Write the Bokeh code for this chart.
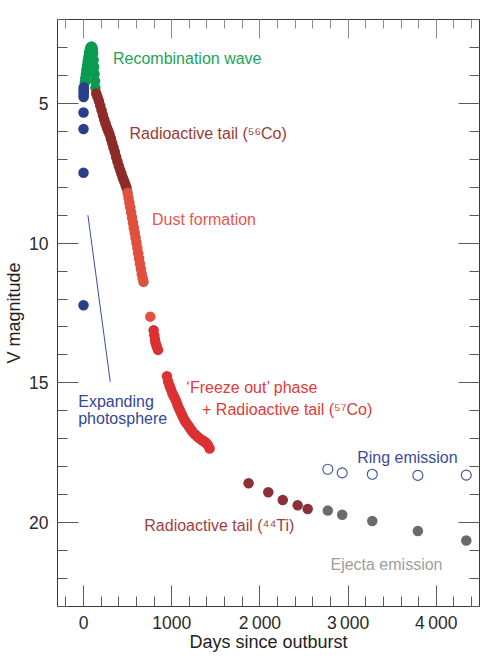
from bokeh.plotting import figure
from bokeh.models import Range1d, LinearAxis, SingleIntervalTicker, Label
from bokeh.embed import file_html
from bokeh.resources import INLINE

# ---------------- data ----------------
# Expanding photosphere (blue)
blue_days = [0, 0, 0, 0, 1, 1, 2, 2, 3, 3]
blue_mags = [12.22, 7.48, 5.92, 5.33, 4.77, 4.70, 4.62, 4.55, 4.48, 4.42]

# Recombination wave (green)
green_days = [15, 20, 27, 33, 40, 47, 55, 62, 70, 77, 84, 91, 98, 105, 110, 115, 120, 125, 130, 135]
green_mags = [4.25, 4.10, 3.95, 3.80, 3.65, 3.50, 3.35, 3.20, 3.10, 3.02, 2.98, 2.97, 2.98, 3.05,
              3.20, 3.45, 3.70, 3.95, 4.20, 4.45]

# Radioactive tail 56Co (dark red)
co56_days = [145, 160, 175, 190, 205, 220, 235, 250, 265, 280, 295, 310, 325, 340, 355, 370,
             385, 400, 415, 430, 445, 460, 475, 488]
co56_mags = [4.65, 4.78, 4.92, 5.08, 5.25, 5.42, 5.58, 5.72, 5.86, 5.98, 6.10, 6.26, 6.42, 6.58,
             6.74, 6.92, 7.08, 7.24, 7.38, 7.52, 7.66, 7.78, 7.90, 8.02]

# Dust formation (orange red)
dust_days = [500, 510, 520, 530, 540, 550, 560, 570, 580, 590, 600, 610, 620, 630, 640, 650,
             660, 670, 680, 757]
dust_mags = [8.20, 8.38, 8.55, 8.72, 8.90, 9.08, 9.27, 9.45, 9.62, 9.80, 9.98, 10.17, 10.36,
             10.55, 10.74, 10.92, 11.10, 11.25, 11.38, 12.63]

# Freeze out phase + radioactive tail 57Co (red)
freeze_days = [795, 803, 810, 818, 830, 845,
               946, 960, 975, 990, 1005, 1020, 1035, 1050, 1065, 1080, 1095, 1110, 1125, 1140,
               1155, 1170, 1185, 1200, 1215, 1230, 1250, 1270, 1290, 1310, 1330, 1350, 1370,
               1390, 1410, 1430]
freeze_mags = [13.12, 13.30, 13.45, 13.58, 13.70, 13.82,
               14.76, 14.95, 15.10, 15.22, 15.35, 15.45, 15.55, 15.65, 15.78, 15.90, 16.00,
               16.10, 16.20, 16.30, 16.38, 16.45, 16.52, 16.58, 16.66, 16.72, 16.80, 16.86,
               16.92, 16.97, 17.02, 17.06, 17.10, 17.15, 17.22, 17.35]

# Radioactive tail 44Ti (brown)
ti44_days = [1872, 2095, 2259, 2428, 2542]
ti44_mags = [18.59, 18.91, 19.19, 19.38, 19.51]

# Ejecta emission (grey)
ejecta_days = [2770, 2933, 3274, 3791, 4340]
ejecta_mags = [19.57, 19.72, 19.94, 20.30, 20.64]

# Ring emission (open blue circles)
ring_days = [2770, 2933, 3274, 3791, 4340]
ring_mags = [18.09, 18.22, 18.27, 18.31, 18.30]

# Pointer line for the "Expanding photosphere" label
pointer_days = [50, 303]
pointer_mags = [9.0, 14.96]

x_tick_labels = {0: "0", 1000: "1000", 2000: "2\u2009000", 3000: "3\u2009000", 4000: "4\u2009000"}

# ---------------- figure ----------------
FONT = "Liberation Sans"
AXIS_LINE = "#3a3a3a"
TICK = "#5a5a5a"

p = figure(width=500, height=664,
           x_range=Range1d(-295, 4490), y_range=Range1d(23, 2),
           output_backend="svg", toolbar_location=None,
           x_axis_location=None, y_axis_location=None,
           min_border_left=57, min_border_right=21, min_border_top=19, min_border_bottom=58)
p.grid.visible = False
p.outline_line_color = None
p.background_fill_color = "white"
p.border_fill_color = "white"


def make_axis(ticker_interval, label, major_in, minor_in, show_labels, overrides=None):
    ax = LinearAxis(ticker=SingleIntervalTicker(interval=ticker_interval, num_minor_ticks=5))
    ax.axis_line_color = AXIS_LINE
    ax.axis_line_width = 1
    ax.major_tick_line_color = TICK
    ax.minor_tick_line_color = TICK
    ax.major_tick_in = major_in
    ax.major_tick_out = 0
    ax.minor_tick_in = minor_in
    ax.minor_tick_out = 0
    if show_labels:
        ax.major_label_text_font = FONT
        ax.major_label_text_font_size = "17.5px"
        ax.major_label_text_color = "#2a2a2a"
        ax.axis_label = label
        ax.axis_label_text_font = FONT
        ax.axis_label_text_font_size = "18px"
        ax.axis_label_text_font_style = "normal"
        ax.axis_label_text_color = "#222222"
        if overrides:
            ax.major_label_overrides = overrides
    else:
        ax.major_label_text_font_size = "0px"
        ax.major_label_text_alpha = 0
        ax.major_label_standoff = 0
    return ax


bottom = make_axis(1000, "Days since outburst", 21, 10, True, x_tick_labels)
bottom.major_label_standoff = 6
bottom.axis_label_standoff = -4
left = make_axis(5, "V magnitude", 21, 10, True)
left.major_label_standoff = 9
left.axis_label_standoff = 2
top = make_axis(1000, None, 19, 9, False)
top.major_tick_line_color = "#8a8a8a"
top.minor_tick_line_color = "#8a8a8a"
right = make_axis(5, None, 21, 10, False)

p.add_layout(bottom, "below")
p.add_layout(left, "left")
p.add_layout(top, "above")
p.add_layout(right, "right")

DOT = 10.5
GREEN = "#0a9a50"
BLUE = "#2b3e8c"
BROWN = "#8c2b28"
DUST = "#e0503f"
RED = "#db3132"
TI = "#8a3036"
GREY = "#6b6b6b"

p.segment(x0=[pointer_days[0]], y0=[pointer_mags[0]], x1=[pointer_days[1]], y1=[pointer_mags[1]],
          line_color="#3a4fa0", line_width=1)

p.scatter(green_days, green_mags, size=DOT, fill_color=GREEN, line_color=None)
p.scatter(blue_days, blue_mags, size=DOT, fill_color=BLUE, line_color=None)
p.scatter(co56_days, co56_mags, size=DOT, fill_color=BROWN, line_color=None)
p.scatter(dust_days, dust_mags, size=DOT, fill_color=DUST, line_color=None)
p.scatter(freeze_days, freeze_mags, size=DOT, fill_color=RED, line_color=None)
p.scatter(ti44_days, ti44_mags, size=DOT, fill_color=TI, line_color=None)
p.scatter(ejecta_days, ejecta_mags, size=DOT, fill_color=GREY, line_color=None)
p.scatter(ring_days, ring_mags, size=DOT - 0.5, fill_color=None, line_color="#3c4fa0",
          line_width=1.1)


def add_label(x, y, text, color):
    p.add_layout(Label(x=x, y=y, text=text, text_color=color, text_font=FONT,
                       text_font_size="16px", text_baseline="alphabetic", text_align="left"))


add_label(334, 3.38, "Recombination wave", "#1ea35a")
add_label(522, 6.08, "Radioactive tail (\u2075\u2076Co)", "#9a3a36")
add_label(776, 9.16, "Dust formation", "#e4584a")
add_label(1166, 15.15, "\u2018Freeze out\u2019 phase", "#e03a3a")
add_label(1344, 15.96, "+ Radioactive tail (\u2075\u2077Co)", "#e03a3a")
add_label(-60, 15.66, "Expanding", "#34479a")
add_label(-60, 16.27, "photosphere", "#34479a")
add_label(689, 20.09, "Radioactive tail (\u2074\u2074Ti)", "#a03e40")
add_label(3103, 17.67, "Ring emission", "#3c4b98")
add_label(2800, 21.49, "Ejecta emission", "#9e9e9e")

open("out.html", "w").write(file_html(p, INLINE))
